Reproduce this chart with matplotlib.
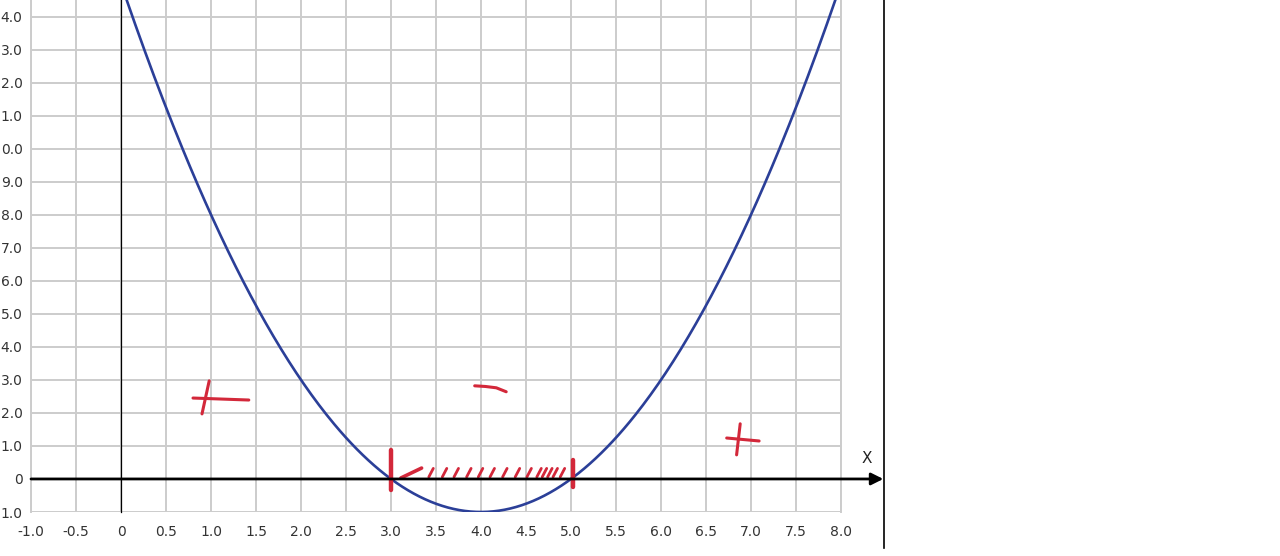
import numpy as np
import matplotlib
matplotlib.use("Agg")
import matplotlib.pyplot as plt
from matplotlib.lines import Line2D

# parabola y = (x - 3)(x - 5)
roots = [3.0, 5.0]
x_ticks = [-1.0, -0.5, 0, 0.5, 1.0, 1.5, 2.0, 2.5, 3.0, 3.5, 4.0, 4.5, 5.0, 5.5, 6.0, 6.5, 7.0, 7.5, 8.0]
y_ticks = [-1.0, 0, 1.0, 2.0, 3.0, 4.0, 5.0, 6.0, 7.0, 8.0, 9.0, 10.0, 11.0, 12.0, 13.0, 14.0]
# labels as visible in the (cropped) picture
y_labels = ["1.0", "0", "1.0", "2.0", "3.0", "4.0", "5.0", "6.0", "7.0", "8.0", "9.0",
            "0.0", "1.0", "2.0", "3.0", "4.0"]

# hand drawn red marks (data units)
plus_left = [([0.80, 1.42], [2.45, 2.39]), ([0.98, 0.90], [2.97, 1.97])]
minus_mid = [([3.93, 4.05, 4.17, 4.28], [2.82, 2.80, 2.76, 2.64])]
plus_right = [([6.73, 7.09], [1.24, 1.15]), ([6.88, 6.84], [1.67, 0.73])]
bars = [([3.0, 3.0], [0.88, -0.33]), ([5.02, 5.02], [0.58, -0.24])]
first_stroke = ([3.11, 3.34], [0.03, 0.33])
hatch_x = [3.42, 3.57, 3.70, 3.84, 3.97, 4.10, 4.24, 4.38, 4.51, 4.62, 4.68, 4.74, 4.80, 4.88]

fig = plt.figure(figsize=(12.8, 5.56), dpi=100)
ax = fig.add_axes([31 / 1280, 1 - 512 / 556, 810 / 1280, 512 / 556])
ax.set_xlim(-1, 8)
ax.set_ylim(-1, 14.5)
for s in ax.spines.values():
    s.set_visible(False)

ax.set_xticks(x_ticks)
ax.set_xticklabels(["0" if v == 0 else "%.1f" % v for v in x_ticks])
ax.set_yticks(y_ticks)
ax.set_yticklabels(y_labels)
ax.tick_params(length=0, labelsize=10, colors="#333333")
ax.tick_params(axis="x", pad=9)
ax.tick_params(axis="y", pad=6)
ax.grid(True, color="#cccccc", linewidth=1.4)
ax.set_axisbelow(True)

# borders of grid
ax.plot([8, 8], [-1, 14.5], color="#cccccc", linewidth=1.4, clip_on=False)
ax.plot([-1, -1], [-1, 14.5], color="#cccccc", linewidth=1.4, clip_on=False)

# axes lines
ax.plot([0, 0], [-1, 14.5], color="black", linewidth=0.9, clip_on=False)
ax.annotate("", xy=(8.47, 0), xytext=(-1, 0),
            arrowprops=dict(arrowstyle="-|>", color="black", lw=2,
                            mutation_scale=18, shrinkA=0, shrinkB=0),
            annotation_clip=False)
ax.text(8.29, 0.62, "X", fontsize=11, color="#222222", ha="center", va="center", clip_on=False)

# parabola
x = np.linspace(-0.2, 8.2, 400)
y = (x - roots[0]) * (x - roots[1])
ax.plot(x, y, color="#2b3f98", linewidth=1.9)

red = "#d3283a"
for xs, ys in plus_left + minus_mid + plus_right:
    ax.plot(xs, ys, color=red, linewidth=2.2, solid_capstyle="round")
for xs, ys in bars:
    ax.plot(xs, ys, color=red, linewidth=3.2, solid_capstyle="round")
ax.plot(first_stroke[0], first_stroke[1], color=red, linewidth=2.6, solid_capstyle="round")
for hx in hatch_x:
    ax.plot([hx, hx + 0.05], [0.06, 0.32], color=red, linewidth=2.0, solid_capstyle="round")

# separating line on the right
fig.add_artist(Line2D([884 / 1280, 884 / 1280], [1, 1 - 548 / 556], color="black", linewidth=1.2))

fig.savefig("out.png", dpi=100)
